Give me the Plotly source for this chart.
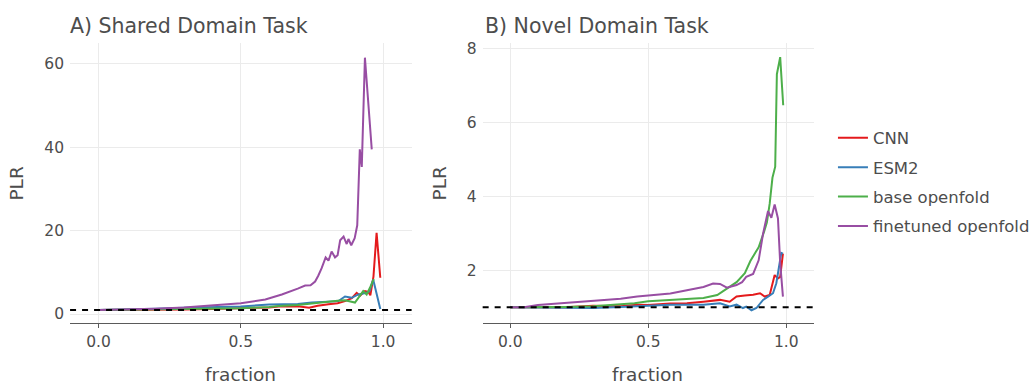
import plotly.graph_objects as go

W, H = 1035, 386

# ---------------- data ----------------
series_names = ["CNN", "ESM2", "base openfold", "finetuned openfold"]
series_colors = ["#E41A1C", "#377EB8", "#4DAF4A", "#984EA3"]

# Panel A: Shared Domain Task
a_cnn_x = [0.0, 0.1, 0.2, 0.3, 0.4, 0.5, 0.6, 0.633, 0.7, 0.74, 0.77, 0.808, 0.84, 0.866, 0.89,
           0.907, 0.919, 0.936, 0.948, 0.955, 0.966, 0.977, 0.99]
a_cnn_y = [1.0, 1.0, 1.05, 1.1, 1.2, 1.35, 1.6, 1.8, 1.9, 1.5, 2.0, 2.35, 2.6, 3.1, 3.8,
           5.1, 4.4, 5.5, 5.3, 4.5, 9.0, 19.5, 8.7]

a_esm_x = [0.0, 0.1, 0.2, 0.3, 0.4, 0.5, 0.6, 0.633, 0.7, 0.749, 0.8, 0.843, 0.866, 0.89,
           0.913, 0.942, 0.952, 0.965, 0.99]
a_esm_y = [1.0, 1.1, 1.3, 1.5, 1.6, 1.8, 2.3, 2.35, 2.4, 2.75, 2.9, 3.1, 4.2, 3.9,
           4.7, 5.1, 5.5, 8.3, 1.2]

a_base_x = [0.0, 0.1, 0.2, 0.3, 0.4, 0.5, 0.6, 0.633, 0.7, 0.75, 0.808, 0.84, 0.866, 0.901,
            0.93, 0.942, 0.955, 0.967]
a_base_y = [1.0, 1.05, 1.1, 1.2, 1.3, 1.4, 1.7, 1.95, 2.2, 2.6, 3.1, 3.2, 3.3, 2.75,
            5.5, 4.7, 6.5, 8.4]

a_fine_x = [0.0, 0.1, 0.2, 0.3, 0.353, 0.4, 0.469, 0.5, 0.586, 0.644, 0.7, 0.726, 0.745, 0.761,
            0.772, 0.784, 0.798, 0.808, 0.819, 0.831, 0.84, 0.849, 0.861, 0.872, 0.878, 0.888,
            0.9, 0.909, 0.918, 0.925, 0.936, 0.96]
a_fine_y = [1.0, 1.1, 1.3, 1.55, 1.8, 2.0, 2.35, 2.6, 3.5, 4.7, 6.1, 6.85, 6.9, 7.8,
            9.2, 11.0, 13.6, 12.8, 15.0, 13.6, 14.1, 17.7, 18.6, 16.8, 18.0, 16.5,
            18.2, 21.3, 39.5, 35.3, 61.5, 39.5]

# Panel B: Novel Domain Task
b_cnn_x = [0.0, 0.1, 0.2, 0.3, 0.4, 0.46, 0.5, 0.58, 0.64, 0.7, 0.76, 0.795, 0.82, 0.85, 0.88,
           0.905, 0.922, 0.94, 0.958, 0.97, 0.978, 0.988]
b_cnn_y = [1.0, 0.99, 1.0, 1.04, 1.03, 1.07, 1.06, 1.1, 1.11, 1.15, 1.2, 1.15, 1.29, 1.32, 1.34,
           1.38, 1.29, 1.33, 1.87, 1.78, 1.82, 2.45]

b_esm_x = [0.0, 0.1, 0.2, 0.3, 0.4, 0.46, 0.5, 0.58, 0.64, 0.7, 0.76, 0.795, 0.82, 0.843, 0.855,
           0.874, 0.892, 0.916, 0.934, 0.952, 0.964, 0.974, 0.982, 0.988]
b_esm_y = [1.0, 0.99, 0.98, 0.98, 1.01, 1.02, 1.04, 1.07, 1.06, 1.07, 1.11, 1.02, 1.07, 0.98, 1.02,
           0.92, 0.98, 1.2, 1.29, 1.38, 1.65, 2.18, 2.47, 2.45]

b_base_x = [0.0, 0.1, 0.2, 0.3, 0.4, 0.45, 0.5, 0.55, 0.6, 0.65, 0.7, 0.75, 0.78, 0.8, 0.82, 0.85,
            0.87, 0.89, 0.9, 0.92, 0.93, 0.94, 0.95, 0.96, 0.966, 0.978, 0.989]
b_base_y = [1.0, 1.0, 1.01, 1.03, 1.07, 1.11, 1.16, 1.18, 1.2, 1.22, 1.25, 1.33, 1.47, 1.58, 1.68,
            1.92, 2.25, 2.5, 2.62, 3.05, 3.3, 3.8, 4.5, 4.8, 7.3, 7.76, 6.46]

b_fine_x = [0.0, 0.05, 0.1, 0.2, 0.3, 0.4, 0.46, 0.5, 0.58, 0.64, 0.7, 0.735, 0.76, 0.785, 0.82,
            0.84, 0.855, 0.88, 0.9, 0.916, 0.934, 0.946, 0.958, 0.97, 0.978, 0.988]
b_fine_y = [1.0, 1.0, 1.06, 1.12, 1.18, 1.23, 1.29, 1.31, 1.37, 1.46, 1.55, 1.64, 1.63, 1.53, 1.6,
            1.68, 1.82, 1.9, 2.27, 2.99, 3.6, 3.42, 3.78, 3.4, 2.2, 1.29]

panel_titles = ["A) Shared Domain Task", "B) Novel Domain Task"]
x_title = "fraction"
y_title = "PLR"
x_ticks = [0.0, 0.5, 1.0]
a_y_ticks = [0, 20, 40, 60]
b_y_ticks = [2, 4, 6, 8]
baseline = 1.0

# ---------------- figure ----------------
FONT = "DejaVu Sans"
TXT = "#4d4d4d"
GRID = "#ebebeb"
AXL = "#5a5a5a"

fig = go.Figure()

panel_a = [(a_cnn_x, a_cnn_y), (a_esm_x, a_esm_y), (a_base_x, a_base_y), (a_fine_x, a_fine_y)]
panel_b = [(b_cnn_x, b_cnn_y), (b_esm_x, b_esm_y), (b_base_x, b_base_y), (b_fine_x, b_fine_y)]

for i, (xs, ys) in enumerate(panel_a):
    fig.add_trace(go.Scatter(x=xs, y=ys, mode="lines", name=series_names[i],
                             legendgroup=series_names[i], showlegend=True,
                             line=dict(color=series_colors[i], width=2),
                             xaxis="x", yaxis="y"))
for i, (xs, ys) in enumerate(panel_b):
    fig.add_trace(go.Scatter(x=xs, y=ys, mode="lines", name=series_names[i],
                             legendgroup=series_names[i], showlegend=False,
                             line=dict(color=series_colors[i], width=2),
                             xaxis="x2", yaxis="y2"))

ydom = [1 - 323 / H, 1 - 40 / H]
xdomA = [70.4 / W, 413.6 / W]
xdomB = [485.0 / W, 817.8 / W]

common_x = dict(range=[-0.1, 1.1], tickvals=x_ticks, tickformat=".1f",
                showgrid=True, gridcolor=GRID, gridwidth=1, zeroline=False,
                showline=True, linecolor=AXL, linewidth=1.2,
                ticks="outside", ticklen=4, tickcolor=AXL, tickwidth=1.2,
                tickfont=dict(family=FONT, size=15.5, color=TXT))
common_y = dict(showgrid=True, gridcolor=GRID, gridwidth=1, zeroline=False,
                showline=False, ticks="", ticklabelstandoff=5,
                tickfont=dict(family=FONT, size=15.5, color=TXT))

fig.update_layout(
    width=W, height=H,
    margin=dict(l=0, r=0, t=0, b=0),
    paper_bgcolor="white", plot_bgcolor="white",
    xaxis=dict(domain=xdomA, anchor="y", **common_x),
    yaxis=dict(domain=ydom, anchor="x", range=[-2.1, 64.9], tickvals=a_y_ticks, **common_y),
    xaxis2=dict(domain=xdomB, anchor="y2", **common_x),
    yaxis2=dict(domain=ydom, anchor="x2", range=[0.58, 8.13], tickvals=b_y_ticks, **common_y),
    legend=dict(x=837 / W, xanchor="left", y=1 - 118 / H, yanchor="top",
                font=dict(family=FONT, size=16.5, color=TXT),
                tracegroupgap=5, bgcolor="rgba(0,0,0,0)", itemwidth=30),
    showlegend=True,
)

for xr, yr in [("x", "y"), ("x2", "y2")]:
    fig.add_shape(type="line", xref=xr + " domain", yref=yr, x0=0, x1=1, y0=baseline, y1=baseline,
                  line=dict(color="black", width=2, dash="6px,6px"), layer="above")

annos = []
annos.append(dict(text=panel_titles[0], x=68 / W, y=1 - 22 / H, xanchor="left", yanchor="middle"))
annos.append(dict(text=panel_titles[1], x=485 / W, y=1 - 22 / H, xanchor="left", yanchor="middle"))
for a in annos:
    a.update(xref="paper", yref="paper", showarrow=False, font=dict(family=FONT, size=20.5, color=TXT))
fig.update_layout(annotations=annos)
for cx in [242, 651]:
    fig.add_annotation(text=x_title, x=cx / W, y=1 - 375 / H, xref="paper", yref="paper",
                       showarrow=False, xanchor="center", yanchor="middle",
                       font=dict(family=FONT, size=18.5, color=TXT))
for cx in [17, 442]:
    fig.add_annotation(text=y_title, x=cx / W, y=1 - 182 / H, xref="paper", yref="paper",
                       showarrow=False, xanchor="center", yanchor="middle", textangle=-90,
                       font=dict(family=FONT, size=18.5, color=TXT))

fig.write_html("out.html")
